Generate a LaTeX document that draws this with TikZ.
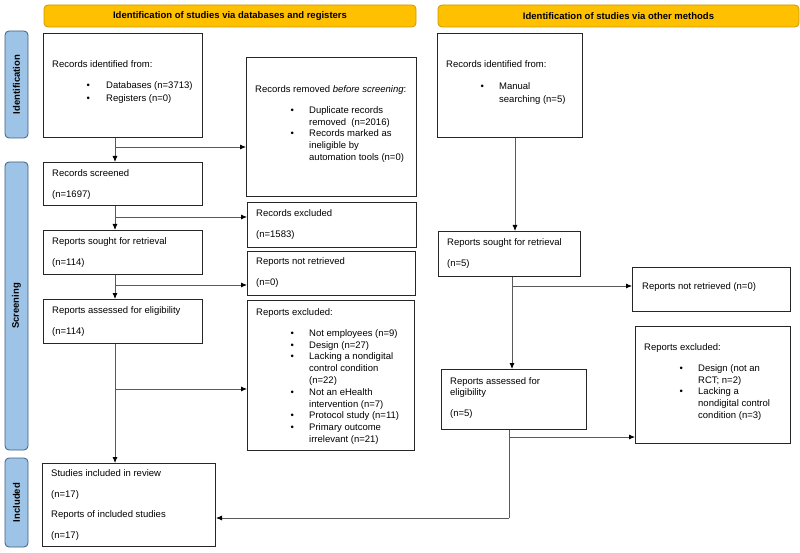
\documentclass[tikz,border=0pt]{standalone}
\usepackage{fontspec}
\setmainfont{Liberation Sans}
\usetikzlibrary{arrows.meta}
\definecolor{bannerfill}{HTML}{FFC000}
\definecolor{bannerline}{HTML}{C99A00}
\definecolor{sidefill}{HTML}{9DC3E6}
\definecolor{sideline}{HTML}{3F5F7F}
\definecolor{conn}{HTML}{5A5A5A}
\newlength\bind
\newlength\bgap
\newcommand{\bl}[1]{\hspace{\bind}\makebox[\bgap][l]{\textbullet}#1}
\newcommand{\cl}[1]{\hspace{\bind}\hspace{\bgap}#1}
\newcommand{\gp}{\\[9pt]}
\tikzset{
  banner/.style={draw=bannerline, fill=bannerfill, rounded corners=4pt, line width=0.8pt,
    font=\fontsize{9.5}{11.8}\selectfont\bfseries, inner sep=0pt},
  sidelbl/.style={draw=sideline, fill=sidefill, rounded corners=4pt, line width=0.8pt,
    font=\fontsize{9.5}{11.8}\selectfont\bfseries, inner sep=0pt, rotate=90},
  box/.style={draw=black!85, line width=1pt, anchor=north west, inner sep=0pt},
  txt/.style={anchor=base west, inner sep=0pt, font=\fontsize{9.5}{11.8}\selectfont},
  arr/.style={draw=conn, line width=0.8pt, -{Latex[length=6pt,width=5pt,color=black]}},
  ln/.style={draw=conn, line width=0.8pt}
}
\begin{document}
\begin{tikzpicture}[x=1pt,y=-1pt]
\useasboundingbox (0,0) rectangle (800,553);

% banners
\node[banner, minimum width=372pt, minimum height=22pt] (banL) at (230,16) {Identification of studies via databases and registers};
\node[banner, minimum width=361pt, minimum height=22pt] (banR) at (618.5,16) {Identification of studies via other methods};

% side labels
\node[sidelbl, minimum width=107pt, minimum height=23pt] (sideI) at (16.5,84.5) {Identification};
\node[sidelbl, minimum width=288pt, minimum height=23pt] (sideS) at (16.5,306) {Screening};
\node[sidelbl, minimum width=89pt, minimum height=23pt] (sideN) at (16.5,502.5) {Included};

% left column boxes
\node[box, minimum width=159pt, minimum height=104pt] (rec) at (43,33) {};
\node[txt] (rect) at (52,67.5) {\setlength\bind{34.5pt}\setlength\bgap{19.5pt}%
  \begin{tabular}[t]{@{}l@{}}Records identified from:\gp
  \bl{Databases (n=3713)}\\[1pt]\bl{Registers (n=0)}\end{tabular}};

\node[box, minimum width=170pt, minimum height=139pt] (rem) at (246,57) {};
\node[txt] (remt) at (255,92.5) {\setlength\bind{35.5pt}\setlength\bgap{18.5pt}%
  \begin{tabular}[t]{@{}l@{}}Records removed \textit{before screening}:\gp
  \bl{Duplicate records}\\\cl{removed\ \ (n=2016)}\\\bl{Records marked as}\\\cl{ineligible by}\\\cl{automation tools (n=0)}\end{tabular}};

\node[box, minimum width=159pt, minimum height=43pt] (scr) at (43,162) {};
\node[txt] (scrt) at (52,176.5) {\begin{tabular}[t]{@{}l@{}}Records screened\gp(n=1697)\end{tabular}};

\node[box, minimum width=169pt, minimum height=45pt] (exc) at (247,202) {};
\node[txt] (exct) at (256,216.5) {\begin{tabular}[t]{@{}l@{}}Records excluded\gp(n=1583)\end{tabular}};

\node[box, minimum width=159pt, minimum height=44pt] (sgt) at (43,230) {};
\node[txt] (sgtt) at (52,244.5) {\begin{tabular}[t]{@{}l@{}}Reports sought for retrieval\gp(n=114)\end{tabular}};

\node[box, minimum width=168pt, minimum height=44pt] (nrt) at (247,251) {};
\node[txt] (nrtt) at (256,265) {\begin{tabular}[t]{@{}l@{}}Reports not retrieved\gp(n=0)\end{tabular}};

\node[box, minimum width=159pt, minimum height=44pt] (ass) at (43,299) {};
\node[txt] (asst) at (52,313.5) {\begin{tabular}[t]{@{}l@{}}Reports assessed for eligibility\gp(n=114)\end{tabular}};

\node[box, minimum width=167pt, minimum height=150pt] (rex) at (247,300) {};
\node[txt] (rext) at (256,315.5) {\setlength\bind{34.5pt}\setlength\bgap{18.5pt}%
  \begin{tabular}[t]{@{}l@{}}Reports excluded:\gp
  \bl{Not employees (n=9)}\\\bl{Design (n=27)}\\\bl{Lacking a nondigital}\\\cl{control condition}\\\cl{(n=22)}\\
  \bl{Not an eHealth}\\\cl{intervention (n=7)}\\\bl{Protocol study (n=11)}\\\bl{Primary outcome}\\\cl{irrelevant (n=21)}\end{tabular}};

\node[box, minimum width=173pt, minimum height=83pt] (inc) at (42,463) {};
\node[txt] (inct) at (51,476.5) {\begin{tabular}[t]{@{}l@{}}Studies included in review\\[8.7pt](n=17)\\[8.7pt]Reports of included studies\\[8.7pt](n=17)\end{tabular}};

% right column boxes
\node[box, minimum width=145pt, minimum height=104pt] (orec) at (437,33) {};
\node[txt] (orect) at (446,67.5) {\setlength\bind{34.5pt}\setlength\bgap{18.5pt}%
  \begin{tabular}[t]{@{}l@{}}Records identified from:\\[10pt]
  \bl{Manual}\\[1pt]\cl{searching (n=5)}\end{tabular}};

\node[box, minimum width=142pt, minimum height=45pt] (osgt) at (438,231) {};
\node[txt] (osgtt) at (447,245.5) {\begin{tabular}[t]{@{}l@{}}Reports sought for retrieval\gp(n=5)\end{tabular}};

\node[box, minimum width=158pt, minimum height=44pt] (onrt) at (632,267) {};
\node[txt] (onrtt) at (642,289.5) {Reports not retrieved (n=0)};

\node[box, minimum width=145pt, minimum height=60pt] (oass) at (441,369) {};
\node[txt] (oasst) at (450,384.5) {\begin{tabular}[t]{@{}l@{}}Reports assessed for\\[-0.8pt]eligibility\\[9pt](n=5)\end{tabular}};

\node[box, minimum width=155pt, minimum height=117pt] (orex) at (635,326) {};
\node[txt] (orext) at (644,350.5) {\setlength\bind{35.5pt}\setlength\bgap{18.5pt}%
  \begin{tabular}[t]{@{}l@{}}Reports excluded:\gp
  \bl{Design (not an}\\\cl{RCT; n=2)}\\\bl{Lacking a}\\\cl{nondigital control}\\\cl{condition (n=3)}\end{tabular}};

% junction coordinates
\coordinate (j1) at (115,147);
\coordinate (j2) at (115,217);
\coordinate (j3) at (115,285);
\coordinate (j4) at (115,389);
\coordinate (k1) at (515,150);
\coordinate (k2) at (512,286);
\coordinate (k3) at (509,437);
\coordinate (k4) at (509,518);

% left connectors
\draw[arr] (rec.south -| j1) -- (scr.north -| j1);
\draw[arr] (j1) -- (rem.west |- j1);
\draw[arr] (scr.south -| j2) -- (sgt.north -| j2);
\draw[arr] (j2) -- (exc.west |- j2);
\draw[arr] (sgt.south -| j3) -- (ass.north -| j3);
\draw[arr] (j3) -- (nrt.west |- j3);
\draw[arr] (ass.south -| j4) -- (inc.north -| j4);
\draw[arr] (j4) -- (rex.west |- j4);

% right connectors
\draw[arr] (orec.south -| k1) -- (osgt.north -| k1);
\draw[arr] (osgt.south -| k2) -- (oass.north -| k2);
\draw[arr] (k2) -- (onrt.west |- k2);
\draw[ln] (oass.south -| k3) -- (k4);
\draw[arr] (k3) -- (orex.west |- k3);
\draw[arr] (k4) -- (inc.east |- k4);
\end{tikzpicture}
\end{document}
